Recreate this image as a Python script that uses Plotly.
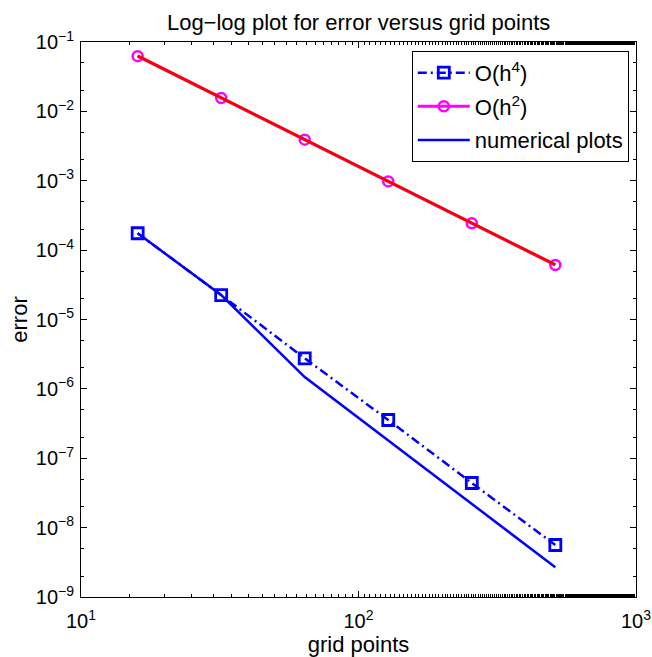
import plotly.graph_objects as go

grid_points = [16, 32, 64, 128, 256, 512]
err_h4 = [1.75e-4, 2.25e-5, 2.76e-6, 3.56e-7, 4.40e-8, 5.62e-9]
err_h2 = [0.0625, 0.0156, 0.00391, 9.77e-4, 2.44e-4, 6.10e-5]
num_h4 = [1.75e-4, 2.25e-5, 1.48e-6, 1.80e-7, 2.19e-8, 2.68e-9]
num_h2 = [0.0630, 0.0158, 0.00395, 9.86e-4, 2.46e-4, 6.16e-5]

x_tickvals = [10, 100, 1000]
x_ticktext = ["10<sup>1</sup>", "10<sup>2</sup>", "10<sup>3</sup>"]
y_tickvals = [1e-9, 1e-8, 1e-7, 1e-6, 1e-5, 1e-4, 1e-3, 1e-2, 1e-1]
y_ticktext = ["10<sup>\u2212%d</sup>" % k for k in range(9, 0, -1)]

FONT = "Liberation Sans, Arial, sans-serif"

fig = go.Figure()
fig.add_trace(go.Scatter(x=grid_points, y=err_h4, mode="lines+markers", name="O(h<sup>4</sup>)",
                         legendgroup="a",
                         line=dict(color="#0000ff", width=2.5, dash="9px,4px,2px,4px"),
                         marker=dict(symbol="square-open", size=11, color="#0000ff", line=dict(width=2.8))))
fig.add_trace(go.Scatter(x=grid_points, y=err_h2, mode="lines+markers", name="O(h<sup>2</sup>)",
                         legendgroup="b",
                         line=dict(color="#ff00ff", width=3),
                         marker=dict(symbol="circle-open", size=10, color="#ff00ff", line=dict(width=2.5))))
fig.add_trace(go.Scatter(x=grid_points, y=num_h4, mode="lines", name="numerical plots",
                         legendgroup="c",
                         line=dict(color="#0000ff", width=2.5)))
fig.add_trace(go.Scatter(x=grid_points, y=num_h2, mode="lines", showlegend=False,
                         legendgroup="d",
                         line=dict(color="#ff0000", width=3)))

axis_common = dict(type="log", showgrid=False, zeroline=False, showline=True, linecolor="black",
                   linewidth=1, mirror="allticks", ticks="inside", ticklen=6, tickcolor="black",
                   automargin=False,
                   tickfont=dict(family=FONT, size=20, color="black"),
                   minor=dict(ticks="inside", ticklen=3, tickcolor="black", showgrid=False))

fig.update_xaxes(range=[0.99999, 3.00001], tickmode="array", tickvals=x_tickvals, ticktext=x_ticktext,
                 ticklabelstandoff=6,
                 title=dict(text="grid points", font=dict(family=FONT, size=22, color="black"), standoff=0),
                 **axis_common)
fig.update_yaxes(range=[-9.00001, -0.99999], tickmode="array", tickvals=y_tickvals, ticktext=y_ticktext,
                 ticklabelstandoff=2,
                 title=dict(text="error", font=dict(family=FONT, size=22, color="black"), standoff=2),
                 **axis_common)

fig.update_layout(
    width=652, height=657,
    margin=dict(l=81, r=16, t=42, b=60),
    paper_bgcolor="white", plot_bgcolor="white",
    font=dict(family=FONT, color="black"),
    title=dict(text="Log\u2212log plot for error versus grid points", x=0.55, xanchor="center",
               y=1 - 22 / 657, yanchor="middle", font=dict(family=FONT, size=22, color="black")),
    legend=dict(x=0.987, y=0.984, xanchor="right", yanchor="top", bgcolor="white",
                bordercolor="black", borderwidth=1, font=dict(family=FONT, size=22, color="black"),
                tracegroupgap=2, itemwidth=52),
    showlegend=True,
)

fig.write_html("out.html")
